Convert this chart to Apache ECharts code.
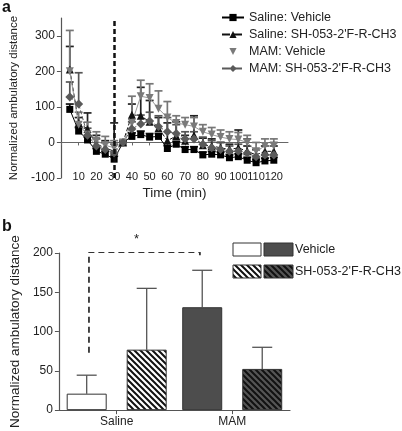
<!DOCTYPE html>
<html>
<head>
<meta charset="utf-8">
<script src="https://cdn.jsdelivr.net/npm/echarts@6/dist/echarts.min.js"></script>
<style>
html,body{margin:0;padding:0;background:#fff;}
#chart{width:402px;height:431px;}
</style>
</head>
<body>
<div id="chart"></div>
<script>
// ---------- Panel a data ----------
const timePoints = [5,10,15,20,25,30,35,40,45,50,55,60,65,70,75,80,85,90,95,100,105,110,115,120];
const salineVehicle    = [93, 32, 7, -25, -33, -47, 0, 17, 22, 15, 17, -17, -5, -20, -20, -35, -33, -35, -43, -40, -50, -57, -52, -50];
const salineVehicleErr = [15, 10, 8, 8, 8, 8, 2, 10, 10, 10, 8, 8, 8, 8, 8, 8, 8, 8, 8, 8, 8, 8, 8, 8];
const salineSH         = [205, 55, 38, -5, -15, -25, 0, 78, 75, 58, 40, 5, 18, 5, 20, -8, -10, -15, -20, -15, -25, -35, -25, -25];
const salineSHErr      = [65, 15, 45, 25, 20, 80, 2, 30, 80, 60, 30, 50, 40, 15, 55, 20, 20, 15, 15, 50, 15, 15, 15, 15];
const mamVehicle       = [200, 50, 22, 5, -8, -15, 0, 55, 130, 125, 95, 70, 55, 50, 45, 30, 22, 15, 10, 8, 0, -25, -10, -10];
const mamVehicleErr    = [115, 35, 35, 25, 25, 20, 2, 75, 45, 40, 50, 45, 20, 20, 25, 20, 20, 20, 20, 20, 20, 25, 20, 20];
const mamSH            = [128, 108, 20, -10, -20, -30, 0, 38, 52, 60, 45, 30, 25, 10, 10, -5, -15, -20, -25, -25, -30, -40, -35, -35];
const mamSHErr         = [42, 88, 20, 20, 20, 25, 2, 20, 25, 25, 30, 40, 25, 20, 20, 20, 20, 20, 15, 20, 40, 20, 25, 35];
const injectionTime = 30;
const xTicksA = [10,20,30,40,50,60,70,80,90,100,110,120];

// ---------- Panel b data ----------
const groups = ['Saline', 'MAM'];
const vehicleMean = [21, 131];
const vehicleErr  = [23.5, 47];
const shMean      = [77, 52.5];
const shErr       = [78, 27.5];
const bracketX = [0.26, 0.26, 1.22, 1.22];
const bracketY = [73, 201, 201, 197];

const FONT = 'Liberation Sans, Arial, sans-serif';
const TXT = '#222';

function hatch(bg, fg) {
  const s = 6;
  const c = document.createElement('canvas');
  c.width = s; c.height = s;
  const g = c.getContext('2d');
  g.fillStyle = bg; g.fillRect(0, 0, s, s);
  g.strokeStyle = fg; g.lineWidth = 2;
  g.beginPath();
  g.moveTo(-1, -1); g.lineTo(s + 1, s + 1);
  g.moveTo(-1, s - 1); g.lineTo(1, s + 1);
  g.moveTo(s - 1, -1); g.lineTo(s + 1, 1);
  g.stroke();
  return { image: c, repeat: 'repeat' };
}
const hatchLight = hatch('#ffffff', '#111111');
const hatchDark = hatch('#555555', '#111111');

function errSeriesA(name, mean, err, color) {
  return {
    type: 'custom', name: name + ' err', xAxisIndex: 0, yAxisIndex: 0, z: 1,
    data: timePoints.map((t, i) => [t, mean[i], err[i]]),
    encode: { x: 0, y: 1 },
    renderItem: function (params, api) {
      const x = api.value(0), y = api.value(1), e = api.value(2);
      const p0 = api.coord([x, y]);
      const p1 = api.coord([x, y + e]);
      return { type: 'group', children: [
        { type: 'line', shape: { x1: p0[0], y1: p0[1], x2: p1[0], y2: p1[1] }, style: { stroke: color, lineWidth: 1.7 } },
        { type: 'line', shape: { x1: p1[0] - 4, y1: p1[1], x2: p1[0] + 4, y2: p1[1] }, style: { stroke: color, lineWidth: 1.7 } }
      ]};
    }
  };
}

function lineSeries(name, mean, color, symbol, size, dashed, lineColor) {
  return {
    type: 'line', name: name, xAxisIndex: 0, yAxisIndex: 0, z: 3,
    data: timePoints.map((t, i) => [t, mean[i]]),
    symbol: symbol, symbolSize: size, showAllSymbol: true,
    itemStyle: { color: color },
    lineStyle: { color: lineColor || color, width: 1, type: dashed ? 'dashed' : 'solid' }
  };
}

const BAR_W = 40, BAR_GAP = 20;
function errSeriesB(name, mean, err, side) {
  return {
    type: 'custom', name: name, xAxisIndex: 1, yAxisIndex: 1, z: 1,
    data: groups.map((g, i) => [i, mean[i], err[i]]),
    encode: { x: 0, y: 1 },
    renderItem: function (params, api) {
      const x = api.value(0), y = api.value(1), e = api.value(2);
      const off = side * (BAR_W + BAR_GAP) / 2;
      const p0 = api.coord([x, y]);
      const p1 = api.coord([x, y + e]);
      const cx = p0[0] + off;
      return { type: 'group', children: [
        { type: 'line', shape: { x1: cx, y1: p0[1], x2: cx, y2: p1[1] }, style: { stroke: '#555', lineWidth: 1.3 } },
        { type: 'line', shape: { x1: cx - 10, y1: p1[1], x2: cx + 10, y2: p1[1] }, style: { stroke: '#555', lineWidth: 1.3 } }
      ]};
    }
  };
}

const chart = echarts.init(document.getElementById('chart'));
const axisLine = { lineStyle: { color: '#555', width: 1.2 } };

const option = {
  animation: false,
  backgroundColor: '#fff',
  textStyle: { fontFamily: FONT },
  grid: [
    { left: 51, top: 18, width: 237, height: 160 },
    { left: 50, top: 253, width: 240, height: 157.6 }
  ],
  legend: {
    orient: 'vertical', left: 221, top: 11, padding: 0, itemGap: 4, itemWidth: 22, itemHeight: 9,
    textStyle: { fontSize: 12.5, color: TXT, fontFamily: FONT },
    data: ['Saline: Vehicle', "Saline: SH-053-2'F-R-CH3",
      { name: 'MAM: Vehicle', lineStyle: { opacity: 0 } },
      "MAM: SH-053-2'F-R-CH3"]
  },
  xAxis: [
    { type: 'value', gridIndex: 0, min: 0, max: 128, interval: 10,
      axisLine: { show: true, onZero: true, lineStyle: { color: '#666', width: 1 } },
      axisTick: { show: true, length: 3, lineStyle: { color: '#666' } },
      splitLine: { show: false },
      axisLabel: { margin: -7, fontSize: 11, color: TXT, fontFamily: FONT, showMaxLabel: false,
        formatter: v => (xTicksA.indexOf(v) >= 0 ? String(v) : '') },
      name: 'Time (min)', nameLocation: 'middle', nameGap: 15,
      nameTextStyle: { fontSize: 13.5, color: TXT, fontFamily: FONT, verticalAlign: 'middle' } },
    { type: 'category', gridIndex: 1, data: groups,
      axisLine: axisLine,
      axisTick: { show: true, alignWithLabel: true, length: 4, lineStyle: { color: '#555' } },
      axisLabel: { margin: 6, fontSize: 12, color: TXT, fontFamily: FONT } },
    { type: 'value', gridIndex: 1, min: 0, max: 2, show: false }
  ],
  yAxis: [
    { type: 'value', gridIndex: 0, min: -100, max: 350, interval: 100,
      axisLine: { show: true, lineStyle: { color: '#555', width: 1.2 } },
      axisTick: { show: true, length: 4, lineStyle: { color: '#555' } },
      splitLine: { show: false },
      axisLabel: { margin: 6, fontSize: 12, color: TXT, fontFamily: FONT, showMaxLabel: false,
        formatter: v => (v % 100 === 0 ? String(v) : '') },
      name: 'Normalized ambulatory distance', nameLocation: 'middle', nameGap: 38,
      nameTextStyle: { fontSize: 11.5, color: TXT, fontFamily: FONT } },
    { type: 'value', gridIndex: 1, min: 0, max: 200, interval: 50,
      axisLine: { show: true, lineStyle: { color: '#555', width: 1.2 } },
      axisTick: { show: true, length: 4, lineStyle: { color: '#555' } },
      splitLine: { show: false },
      axisLabel: { margin: 6, fontSize: 12, color: TXT, fontFamily: FONT },
      name: 'Normalized ambulatory distance', nameLocation: 'middle', nameGap: 34,
      nameTextStyle: { fontSize: 13.5, color: TXT, fontFamily: FONT } }
  ],
  series: [
    errSeriesA('Saline: Vehicle', salineVehicle, salineVehicleErr, '#111'),
    errSeriesA("Saline: SH-053-2'F-R-CH3", salineSH, salineSHErr, '#222'),
    errSeriesA('MAM: Vehicle', mamVehicle, mamVehicleErr, '#777'),
    errSeriesA("MAM: SH-053-2'F-R-CH3", mamSH, mamSHErr, '#555'),
    Object.assign(lineSeries('Saline: Vehicle', salineVehicle, '#000', 'rect', 7, false), {
      markLine: { silent: true, symbol: 'none', label: { show: false },
        lineStyle: { color: '#111', width: 2.5, type: [5, 3] },
        data: [{ xAxis: injectionTime }] }
    }),
    lineSeries("Saline: SH-053-2'F-R-CH3", salineSH, '#111', 'triangle', 8, true),
    lineSeries('MAM: Vehicle', mamVehicle, '#7a7a7a', 'path://M0,0L10,0L5,9Z', 8, false, '#999'),
    lineSeries("MAM: SH-053-2'F-R-CH3", mamSH, '#5a5a5a', 'diamond', 9, true),
    { type: 'bar', name: 'Vehicle', xAxisIndex: 1, yAxisIndex: 1, barWidth: BAR_W, barGap: '50%', z: 2,
      data: [
        { value: vehicleMean[0], itemStyle: { color: '#ffffff', borderColor: '#333', borderWidth: 1 } },
        { value: vehicleMean[1], itemStyle: { color: '#4d4d4d', borderColor: '#333', borderWidth: 1 } }
      ] },
    { type: 'bar', name: 'SH', xAxisIndex: 1, yAxisIndex: 1, barWidth: BAR_W, z: 2,
      data: [
        { value: shMean[0], itemStyle: { color: hatchLight, borderColor: '#333', borderWidth: 1 } },
        { value: shMean[1], itemStyle: { color: hatchDark, borderColor: '#333', borderWidth: 1 } }
      ] },
    errSeriesB('Vehicle err', vehicleMean, vehicleErr, -1),
    errSeriesB('SH err', shMean, shErr, 1),
    { type: 'line', name: 'bracket', xAxisIndex: 2, yAxisIndex: 1, symbol: 'none', z: 4,
      data: bracketX.map((x, i) => [x, bracketY[i]]),
      lineStyle: { color: '#333', width: 1.8, type: [6, 4] } }
  ],
  graphic: [
    { type: 'text', left: 2, top: 0, style: { text: 'a', font: 'bold 16px ' + FONT, fill: '#111' } },
    { type: 'text', left: 2, top: 219, style: { text: 'b', font: 'bold 16px ' + FONT, fill: '#111' } },
    { type: 'text', left: 134, top: 233, style: { text: '*', font: '13px ' + FONT, fill: '#222' } },
    { type: 'rect', shape: { x: 233, y: 243, width: 28, height: 13 }, style: { fill: '#fff', stroke: '#333', lineWidth: 1 } },
    { type: 'rect', shape: { x: 264, y: 243, width: 29, height: 13 }, style: { fill: '#4d4d4d', stroke: '#333', lineWidth: 1 } },
    { type: 'rect', shape: { x: 233, y: 265, width: 28, height: 13 }, style: { fill: hatchLight, stroke: '#333', lineWidth: 1 } },
    { type: 'rect', shape: { x: 264, y: 265, width: 29, height: 13 }, style: { fill: hatchDark, stroke: '#333', lineWidth: 1 } },
    { type: 'text', left: 295, top: 243, style: { text: 'Vehicle', font: '12.5px ' + FONT, fill: TXT } },
    { type: 'text', left: 295, top: 265, style: { text: "SH-053-2'F-R-CH3", font: '12.5px ' + FONT, fill: TXT } }
  ]
};
chart.setOption(option);
</script>
</body>
</html>
